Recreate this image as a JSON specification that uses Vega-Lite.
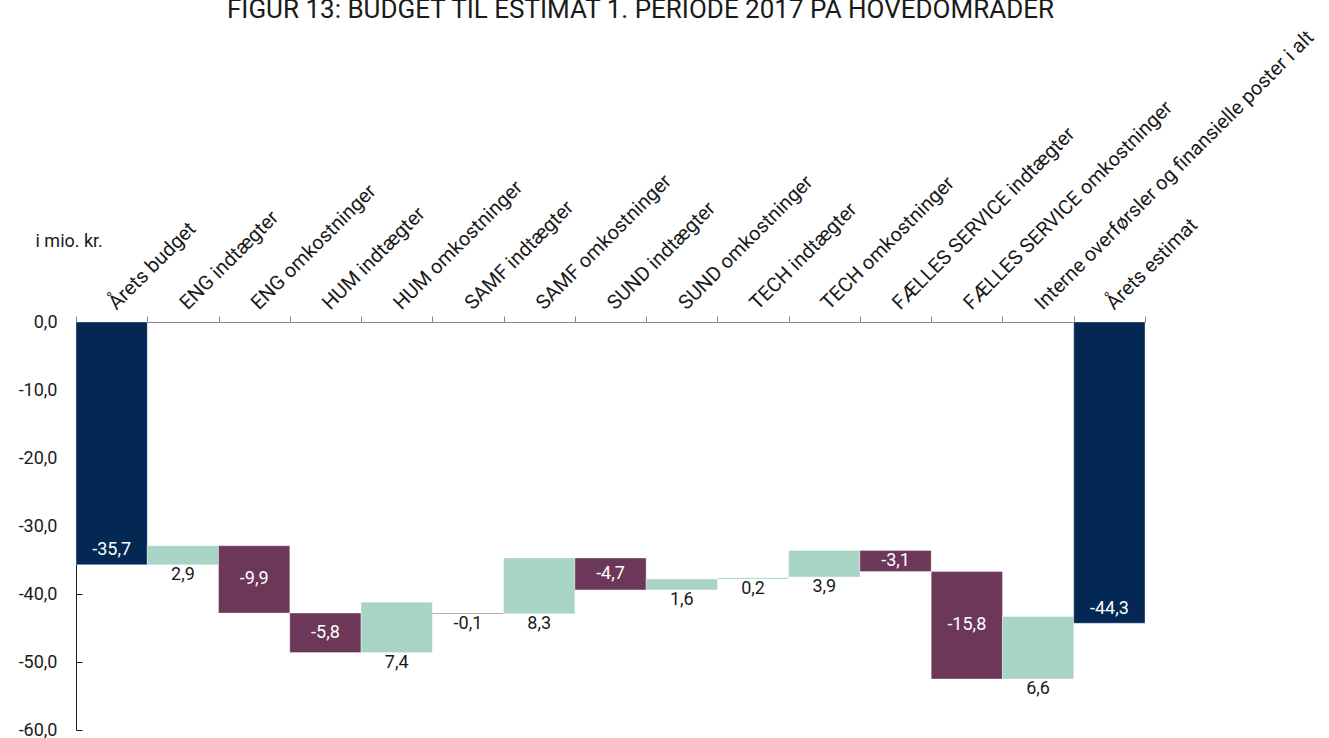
{
  "$schema": "https://vega.github.io/schema/vega-lite/v6.json",
  "autosize": {"type": "none"},
  "padding": {"left": 76, "top": 322, "right": 184, "bottom": 8},
  "width": 1069,
  "height": 408,
  "title": {
    "text": "FIGUR 13: BUDGET TIL ESTIMAT 1. PERIODE 2017 PÅ HOVEDOMRÅDER",
    "anchor": "middle",
    "dx": 30,
    "fontSize": 26,
    "fontWeight": "normal",
    "color": "#1a1a1a",
    "font": "Roboto"
  },
  "data": {
    "values": [
      {"cat": "Årets budget", "start": 0, "end": -35.7, "value": -35.7, "type": "total"},
      {"cat": "ENG indtægter", "start": -35.7, "end": -32.9, "value": 2.9, "type": "up"},
      {"cat": "ENG omkostninger", "start": -32.9, "end": -42.8, "value": -9.9, "type": "down"},
      {"cat": "HUM indtægter", "start": -42.8, "end": -48.6, "value": -5.8, "type": "down"},
      {"cat": "HUM omkostninger", "start": -48.6, "end": -41.2, "value": 7.4, "type": "up"},
      {"cat": "SAMF indtægter", "start": -42.8, "end": -42.9, "value": -0.1, "type": "down"},
      {"cat": "SAMF omkostninger", "start": -42.9, "end": -34.7, "value": 8.3, "type": "up"},
      {"cat": "SUND indtægter", "start": -34.7, "end": -39.4, "value": -4.7, "type": "down"},
      {"cat": "SUND omkostninger", "start": -39.4, "end": -37.8, "value": 1.6, "type": "up"},
      {"cat": "TECH indtægter", "start": -37.8, "end": -37.6, "value": 0.2, "type": "up"},
      {"cat": "TECH omkostninger", "start": -37.5, "end": -33.6, "value": 3.9, "type": "up"},
      {"cat": "FÆLLES SERVICE indtægter", "start": -33.6, "end": -36.7, "value": -3.1, "type": "down"},
      {"cat": "FÆLLES SERVICE omkostninger", "start": -36.7, "end": -52.5, "value": -15.8, "type": "down"},
      {"cat": "Interne overførsler og finansielle poster i alt", "start": -52.5, "end": -43.3, "value": 6.6, "type": "up"},
      {"cat": "Årets estimat", "start": 0, "end": -44.3, "value": -44.3, "type": "total"}
    ]
  },
  "transform": [
    {"calculate": "datum.type == 'total' ? datum.end + 2.1 : ((datum.type == 'down' && abs(datum.value) >= 1) ? (datum.start + datum.end) / 2 : min(datum.start, datum.end) - 1.5)", "as": "ly"}
  ],
  "encoding": {
    "x": {
      "field": "cat",
      "type": "nominal",
      "sort": null,
      "scale": {"paddingInner": 0, "paddingOuter": 0},
      "axis": {
        "orient": "top",
        "title": null,
        "labelAngle": -45,
        "labelAlign": "left",
        "labelBaseline": "middle",
        "labelPadding": 10,
        "labelFontSize": 20,
        "labelColor": "#1a1a1a",
        "labelFont": "Roboto",
        "labelLimit": 600,
        "tickBand": "extent",
        "tickSize": 6,
        "tickColor": "#888888",
        "domainColor": "#888888",
        "labelOverlap": false
      }
    }
  },
  "layer": [
    {
      "mark": {"type": "bar", "stroke": "white", "strokeWidth": 0.6, "strokeOpacity": 0.6},
      "encoding": {
        "y": {
          "field": "start",
          "type": "quantitative",
          "scale": {"domain": [-60, 0], "nice": false},
          "axis": {
            "orient": "left",
            "values": [-60, -50, -40, -30, -20, -10, 0],
            "format": ".1f",
            "grid": false,
            "domainColor": "#1a1a1a",
            "tickColor": "#1a1a1a",
            "tickSize": -6,
            "labelPadding": 25,
            "labelFontSize": 18,
            "labelColor": "#1a1a1a",
            "labelFont": "Roboto",
            "title": "i mio. kr.",
            "titleAngle": 0,
            "titleAlign": "left",
            "titleBaseline": "alphabetic",
            "titleX": -41,
            "titleY": -76,
            "titleFontSize": 18,
            "titleFontWeight": "normal",
            "titleColor": "#1a1a1a",
            "titleFont": "Roboto"
          }
        },
        "y2": {"field": "end"},
        "color": {
          "field": "type",
          "type": "nominal",
          "scale": {"domain": ["total", "up", "down"], "range": ["#022853", "#a7d4c5", "#6d375a"]},
          "legend": null
        }
      }
    },
    {
      "mark": {"type": "text", "fontSize": 18, "font": "Roboto", "baseline": "middle", "align": "center"},
      "encoding": {
        "y": {"field": "ly", "type": "quantitative"},
        "text": {"field": "value", "type": "quantitative", "format": ".1f"},
        "color": {
          "condition": {"test": "datum.type == 'up' || abs(datum.value) < 1", "value": "#1a1a1a"},
          "value": "#ffffff"
        }
      }
    }
  ],
  "config": {
    "view": {"stroke": null},
    "locale": {
      "number": {"decimal": ",", "thousands": ".", "grouping": [3], "currency": ["", " kr."], "minus": "-"}
    }
  }
}
